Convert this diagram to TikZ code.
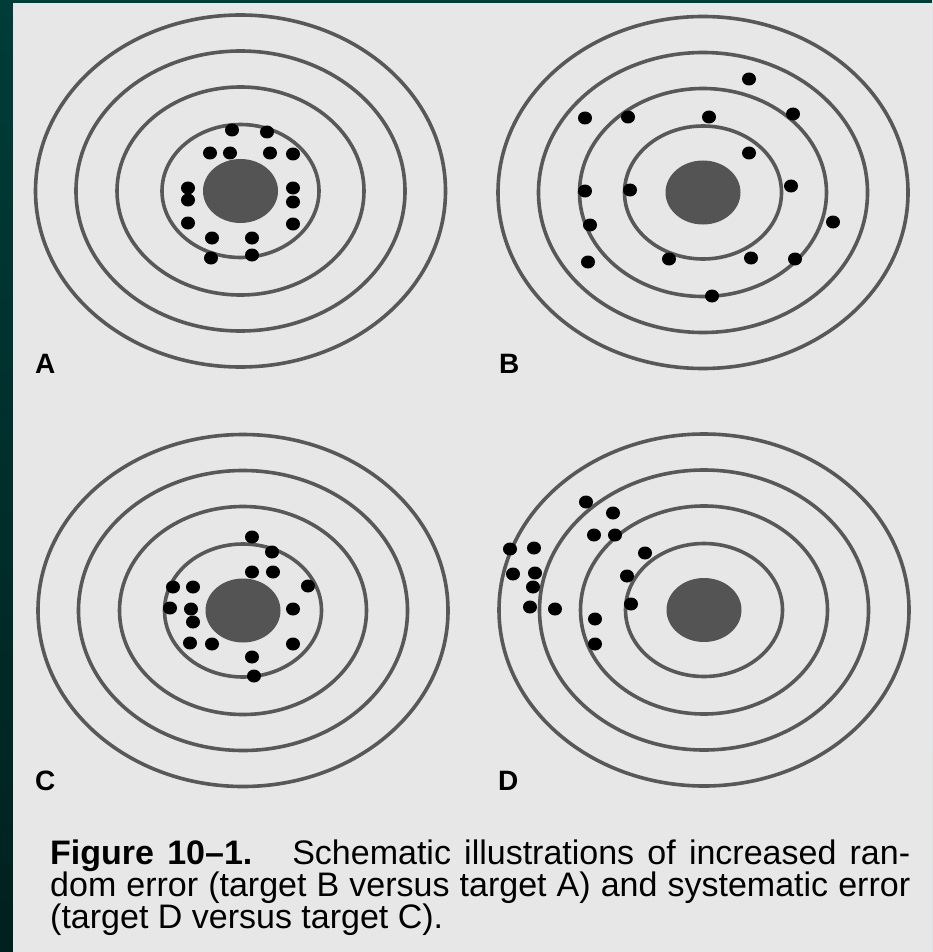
\documentclass[tikz,border=0pt]{standalone}
\usepackage{fontspec}
\setmainfont{Liberation Sans}
\definecolor{frametop}{RGB}{0,60,56}
\definecolor{framebot}{RGB}{0,33,30}
\definecolor{paper}{RGB}{231,231,231}
\definecolor{ringgray}{RGB}{88,88,88}
\begin{document}
\begin{tikzpicture}[x=1pt, y=-1pt,
    ring/.style={draw=ringgray, line width=3.6pt},
    bull/.style={fill=ringgray!95!black},
    shot/.style={fill=black},
    panel/.style={font=\fontsize{28}{28}\selectfont\bfseries, anchor=base west, inner sep=0pt},
    capline/.style={font=\fontsize{34}{34}\selectfont, anchor=base west, inner sep=0pt}]
  \useasboundingbox (0,0) rectangle (932,952);
  % frame and paper
  \shade[top color=frametop, bottom color=framebot] (0,0) rectangle (932,952);
  \fill[paper] (13,3) rectangle (932,952);

  % targets: rings and bull
  \foreach \cx/\cy in {240.5/191, 703/192.5, 243/610.5, 704/610} {
    \foreach \rx/\ry in {205/176, 164.5/140, 123.5/104, 78.5/66.5}
      \draw[ring] (\cx,\cy) ellipse [x radius=\rx, y radius=\ry];
    \fill[bull] (\cx,\cy) ellipse [x radius=37.5, y radius=32];
  }

  % shots, target A
  \foreach \x/\y in {232/130, 267/132, 210/153, 230/153, 270/153, 293/154,
                     188/188, 188/200, 293/188, 293/202, 188/223, 293/224,
                     212/238, 252/238, 211/258, 252/255}
    \fill[shot] (\x,\y) ellipse [x radius=7, y radius=6.5];
  % shots, target B
  \foreach \x/\y in {749/79, 585/118, 628/117, 709/117, 793/114, 749/153,
                     585/191, 630/190, 791/186, 833/222, 590/225, 588/262,
                     669/259, 751/258, 795/259, 712/296}
    \fill[shot] (\x,\y) ellipse [x radius=7, y radius=6.5];
  % shots, target C
  \foreach \x/\y in {252/537, 272/552, 252/572, 273/572, 308/586, 173/587,
                     193/587, 170/608, 191/609, 193/622, 293/609, 190/643,
                     212/644, 293/644, 252/657, 254/676}
    \fill[shot] (\x,\y) ellipse [x radius=7, y radius=6.5];
  % shots, target D
  \foreach \x/\y in {586/502, 613/513, 594/535, 615/535, 645/553, 510/549,
                     534/548, 513/574, 535/573, 533/587, 627/576, 530/607,
                     555/609, 631/604, 595/619, 595/644}
    \fill[shot] (\x,\y) ellipse [x radius=7, y radius=6.5];

  % panel letters
  \node[panel] (labA) at (35,373) {A};
  \node[panel] (labB) at (499,373) {B};
  \node[panel] (labC) at (35,790) {C};
  \node[panel] (labD) at (498,790) {D};

  % caption
  \node[capline] (capone) at (50,864)
    {\makebox[860pt][s]{\textbf{Figure 10–1.}\hspace{16pt} Schematic illustrations of increased ran-}};
  \node[capline] (captwo) at (50,896)
    {\makebox[860pt][s]{dom error (target B versus target A) and systematic error}};
  \node[capline] (capthree) at (50,928) {(target D versus target C).};
\end{tikzpicture}
\end{document}
